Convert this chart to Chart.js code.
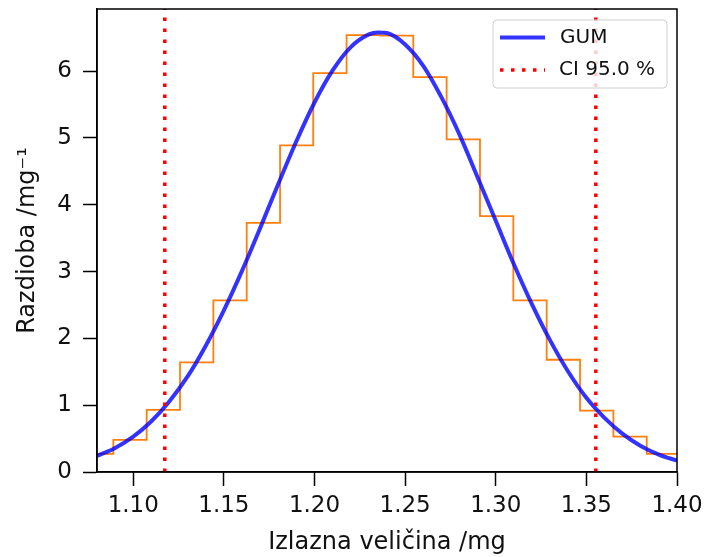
<!DOCTYPE html>
<html>
<head>
<meta charset="utf-8">
<title>Razdioba</title>
<script src="https://cdn.jsdelivr.net/npm/chart.js"></script>
<style>
  body { margin: 0; background: #fff; }
  #wrap { width: 707px; height: 557px; }
</style>
</head>
<body>
<div id="wrap"><canvas id="chart"></canvas></div>
<script>
// Histogram (step outline): bin edges and heights
const binEdges = [1.0706, 1.0890, 1.1074, 1.1258, 1.1442, 1.1626, 1.1810, 1.1993, 1.2177, 1.2361,
                  1.2545, 1.2729, 1.2913, 1.3097, 1.3281, 1.3465, 1.3649, 1.3833, 1.4017];
const binHeights = [0.27, 0.48, 0.93, 1.64, 2.57, 3.73, 4.89, 5.97, 6.54,
                    6.53, 5.91, 4.98, 3.83, 2.57, 1.68, 0.92, 0.53, 0.27];

// GUM curve, read every 0.01 mg (plus the top)
const gumX = [1.08, 1.09, 1.10, 1.11, 1.12, 1.13, 1.14, 1.15, 1.16, 1.17, 1.18,
              1.19, 1.20, 1.21, 1.22, 1.23, 1.235, 1.24, 1.25, 1.26, 1.27, 1.28, 1.29,
              1.30, 1.31, 1.32, 1.33, 1.34, 1.35, 1.36, 1.37, 1.38, 1.39, 1.40];
const gumY = [0.24, 0.36, 0.53, 0.76, 1.06, 1.43, 1.89, 2.42, 3.01, 3.65, 4.31,
              4.95, 5.53, 6.01, 6.36, 6.55, 6.58, 6.57, 6.40, 6.08, 5.61, 5.05, 4.41,
              3.76, 3.11, 2.51, 1.97, 1.50, 1.11, 0.81, 0.57, 0.39, 0.26, 0.17];

// 95 % interval limits
const ciBounds = [1.1174, 1.3552];

const xTicks = [1.10, 1.15, 1.20, 1.25, 1.30, 1.35, 1.40];
const yTicks = [0, 1, 2, 3, 4, 5, 6];
const xRange = [1.08, 1.40];
const yRange = [0, 6.93];
const legendLabels = ['GUM', 'CI 95.0 %'];

const BLUE = 'rgba(0, 0, 255, 0.8)';
const RED = '#ff0000';
const ORANGE = '#ff7f0e';
const RED_DASH = [3.5, 7.5];
const TEXT = '#111';

Chart.defaults.font.family = "'DejaVu Sans', sans-serif";
Chart.defaults.color = TEXT;

// step points: rise at first edge, fall at last edge
const histPoints = [{ x: binEdges[0], y: 0 }];
binHeights.forEach((h, i) => histPoints.push({ x: binEdges[i], y: h }));
histPoints.push({ x: binEdges[binEdges.length - 1], y: 0 });

const gumPoints = gumX.map((x, i) => ({ x: x, y: gumY[i] }));

const ciSets = ciBounds.map(v => ({
    label: legendLabels[1],
    data: [{ x: v, y: yRange[0] }, { x: v, y: yRange[1] }],
    borderColor: RED,
    borderWidth: 3.5,
    borderDash: RED_DASH,
    pointRadius: 0,
    order: 1,
    clip: 0
}));

// frame on all four sides (matplotlib spines)
const framePlugin = {
    id: 'frame',
    afterDatasetsDraw(chart) {
        const { ctx, chartArea: a } = chart;
        ctx.save();
        ctx.strokeStyle = '#000';
        ctx.lineWidth = 1.5;
        ctx.strokeRect(a.left, a.top, a.right - a.left, a.bottom - a.top);
        ctx.restore();
    }
};

// legend box in the upper right corner
const legendPlugin = {
    id: 'boxLegend',
    afterDraw(chart) {
        const ctx = chart.ctx;
        const bx = 493, by = 20, bw = 174, bh = 68, r = 4;
        ctx.save();
        ctx.beginPath();
        ctx.roundRect(bx, by, bw, bh, r);
        ctx.fillStyle = 'rgba(255,255,255,0.8)';
        ctx.fill();
        ctx.strokeStyle = '#d0d0d0';
        ctx.lineWidth = 1;
        ctx.stroke();

        ctx.lineWidth = 4;
        ctx.strokeStyle = BLUE;
        ctx.beginPath();
        ctx.moveTo(500, 37.5);
        ctx.lineTo(545, 37.5);
        ctx.stroke();

        ctx.lineWidth = 3.5;
        ctx.strokeStyle = RED;
        ctx.setLineDash(RED_DASH);
        ctx.beginPath();
        ctx.moveTo(500, 70);
        ctx.lineTo(545, 70);
        ctx.stroke();
        ctx.setLineDash([]);

        ctx.fillStyle = TEXT;
        ctx.font = "20px 'DejaVu Sans'";
        ctx.textBaseline = 'middle';
        ctx.fillText(legendLabels[0], 560, 38);
        ctx.fillText(legendLabels[1], 559, 70);
        ctx.restore();
    }
};

new Chart(document.getElementById('chart'), {
    type: 'line',
    data: {
        datasets: [
            ...ciSets,
            {
                label: legendLabels[0],
                data: gumPoints,
                borderColor: BLUE,
                borderWidth: 4,
                pointRadius: 0,
                cubicInterpolationMode: 'monotone',
                order: 2,
                clip: 0
            },
            {
                label: 'histogram',
                data: histPoints,
                borderColor: ORANGE,
                borderWidth: 1.8,
                pointRadius: 0,
                stepped: 'before',
                order: 3,
                clip: 0
            }
        ]
    },
    options: {
        responsive: true,
        maintainAspectRatio: false,
        animation: false,
        layout: { padding: { left: 0, top: 9, right: 30, bottom: 0 } },
        plugins: {
            legend: { display: false },
            tooltip: { enabled: false }
        },
        scales: {
            x: {
                type: 'linear',
                min: xRange[0],
                max: xRange[1],
                afterBuildTicks: s => { s.ticks = xTicks.map(v => ({ value: v })); },
                afterFit: s => { s.height = 85; s.paddingLeft = 0; s.paddingRight = 0; },
                ticks: {
                    font: { size: 23 },
                    color: TEXT,
                    padding: 6,
                    maxRotation: 0,
                    callback: v => v.toFixed(2)
                },
                grid: {
                    drawOnChartArea: false,
                    drawTicks: true,
                    tickLength: 14,
                    tickWidth: 1.5,
                    tickColor: '#000'
                },
                border: { display: true, color: '#000', width: 1.5 },
                title: {
                    display: true,
                    text: 'Izlazna veličina /mg',
                    font: { size: 24 },
                    color: TEXT,
                    padding: { top: 0, bottom: 0 }
                }
            },
            y: {
                type: 'linear',
                min: yRange[0],
                max: yRange[1],
                afterBuildTicks: s => { s.ticks = yTicks.map(v => ({ value: v })); },
                afterFit: s => { s.width = 97; s.paddingTop = 0; s.paddingBottom = 0; },
                ticks: {
                    font: { size: 23 },
                    color: TEXT,
                    padding: 11,
                    callback: v => String(v)
                },
                grid: {
                    drawOnChartArea: false,
                    drawTicks: true,
                    tickLength: 14,
                    tickWidth: 1.5,
                    tickColor: '#000'
                },
                border: { display: true, color: '#000', width: 1.5 },
                title: {
                    display: true,
                    text: 'Razdioba /mg⁻¹',
                    font: { size: 24 },
                    color: TEXT,
                    padding: { top: 13, bottom: 0 }
                }
            }
        }
    },
    plugins: [framePlugin, legendPlugin]
});
</script>
</body>
</html>
